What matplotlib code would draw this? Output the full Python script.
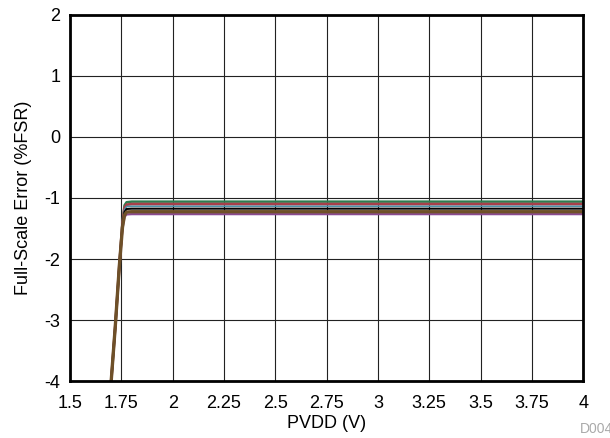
import matplotlib
matplotlib.use("Agg")
import matplotlib.pyplot as plt

plt.rcParams['font.family'] = ['Liberation Sans', 'DejaVu Sans']

# PVDD sweep (V)
pvdd = [1.69, 1.70, 1.72, 1.74, 1.755, 1.765, 1.775, 1.80, 2.0, 2.5, 3.0, 3.5, 4.0]

# full-scale error per device (%FSR)
err_green  = [-4.3, -4.0, -3.1, -2.1, -1.40, -1.12, -1.07, -1.06, -1.06, -1.06, -1.06, -1.06, -1.06]
err_red    = [-4.3, -4.0, -3.1, -2.1, -1.42, -1.16, -1.11, -1.10, -1.10, -1.10, -1.10, -1.10, -1.10]
err_teal   = [-4.3, -4.0, -3.1, -2.1, -1.44, -1.19, -1.14, -1.135, -1.135, -1.135, -1.135, -1.135, -1.135]
err_black  = [-4.3, -4.0, -3.1, -2.1, -1.46, -1.23, -1.18, -1.175, -1.175, -1.175, -1.175, -1.175, -1.175]
err_brown  = [-4.3, -4.0, -3.1, -2.1, -1.48, -1.28, -1.23, -1.225, -1.225, -1.225, -1.225, -1.225, -1.225]
err_purple = [-4.3, -4.0, -3.1, -2.1, -1.50, -1.31, -1.27, -1.265, -1.265, -1.265, -1.265, -1.265, -1.265]

xticks = [1.5, 1.75, 2, 2.25, 2.5, 2.75, 3, 3.25, 3.5, 3.75, 4]
xlabels = ['1.5', '1.75', '2', '2.25', '2.5', '2.75', '3', '3.25', '3.5', '3.75', '4']
yticks = [-4, -3, -2, -1, 0, 1, 2]
ylabels = ['-4', '-3', '-2', '-1', '0', '1', '2']

fig = plt.figure(figsize=(6.1, 4.38), dpi=100)
ax = fig.add_axes([0.115, 0.130, 0.841, 0.836])

ax.plot(pvdd, err_green, color='#2e7d50', lw=1.8)
ax.plot(pvdd, err_red, color='#a8404a', lw=2)
ax.plot(pvdd, err_teal, color='#4a90a8', lw=1.1)
ax.plot(pvdd, err_black, color='black', lw=1.5)
ax.plot(pvdd, err_purple, color='#8a4a90', lw=1.6)
ax.plot(pvdd, err_brown, color='#6e5028', lw=2.4)

ax.set_xlim(1.5, 4)
ax.set_ylim(-4, 2)
ax.set_xticks(xticks)
ax.set_xticklabels(xlabels)
ax.set_yticks(yticks)
ax.set_yticklabels(ylabels)
ax.tick_params(length=0, labelsize=13)
ax.tick_params(axis='x', pad=10)
ax.tick_params(axis='y', pad=7)
ax.grid(True, color='#222222', lw=0.8)
for s in ax.spines.values():
    s.set_linewidth(2)
ax.set_xlabel('PVDD (V)', fontsize=13, labelpad=2)
ax.set_ylabel('Full-Scale Error (%FSR)', fontsize=13, labelpad=9)

fig.text(0.951, 0.012, 'D004', fontsize=10, color='#aaaaaa', ha='left')

fig.savefig('out.png', dpi=100)
